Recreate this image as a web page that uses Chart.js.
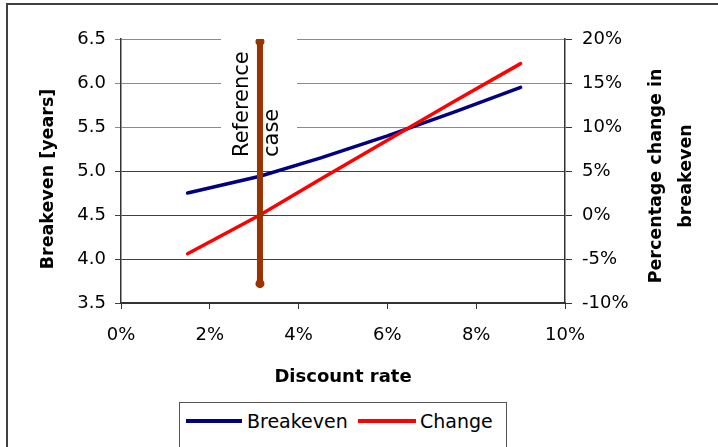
<!DOCTYPE html>
<html>
<head>
<meta charset="utf-8">
<script src="https://cdn.jsdelivr.net/npm/chart.js@4"></script>
<style>
  html, body { margin: 0; padding: 0; background: #fff; }
  #wrap { position: relative; width: 718px; height: 447px; overflow: hidden; background: #fff; }
  #chart { position: absolute; left: 0; top: 0; }
  #legend {
    position: absolute; left: 179px; top: 402px; width: 326px; height: 60px;
    border: 1px solid #555; background: #fff;
    font-family: "DejaVu Sans", sans-serif; font-size: 19px; color: #000;
  }
  .item { position: absolute; top: 6px; height: 24px; line-height: 24px; white-space: nowrap; }
  .swatch { position: absolute; height: 4px; }
</style>
</head>
<body>
<div id="wrap">
  <canvas id="chart" width="718" height="447"></canvas>
  <div id="legend"></div>
</div>
<script>
// Discount rate (%) at which the breakeven was evaluated
const discountRate = [1.5, 3.13, 4.5, 6.0, 7.5, 9.0];
// Breakeven time in years (left axis)
const breakevenYears = [4.75, 4.94, 5.15, 5.40, 5.67, 5.95];
// Percentage change in breakeven relative to the reference case (right axis)
const changePct = [-4.4, 0.0, 4.1, 8.5, 12.9, 17.2];
// Reference case marker: discount rate and vertical extent (years)
const referenceRate = 3.13;
const referenceSpan = [3.72, 6.47];

const seriesNames = ['Breakeven', 'Change'];
const seriesColors = ['#000080', '#ff0000'];
const markerColor = '#993300';

const FONT = '"DejaVu Sans", sans-serif';
Chart.defaults.font.family = FONT;
Chart.defaults.color = '#000';

const toPoints = (xs, ys) => xs.map((x, i) => ({ x: x, y: ys[i] }));

function rotatedText(ctx, text, x, y) {
  ctx.save();
  ctx.translate(x, y);
  ctx.rotate(-Math.PI / 2);
  ctx.fillText(text, 0, 0);
  ctx.restore();
}

// Decorations: outer frame, label box for the reference case, vertical axis titles
const decorations = {
  id: 'decorations',
  beforeDatasetsDraw(chart) {
    const ctx = chart.ctx;
    ctx.save();
    ctx.fillStyle = '#fff';
    ctx.fillRect(221, 33, 76, 132);
    ctx.fillStyle = '#000';
    ctx.font = '21px ' + FONT;
    ctx.textAlign = 'left';
    ctx.textBaseline = 'alphabetic';
    rotatedText(ctx, 'Reference', 248, 157);
    rotatedText(ctx, 'case', 278, 157);
    ctx.restore();
  },
  afterDraw(chart) {
    const ctx = chart.ctx;
    ctx.save();
    ctx.strokeStyle = '#404040';
    ctx.lineWidth = 2;
    ctx.beginPath();
    ctx.moveTo(7, 460);
    ctx.lineTo(7, 4);
    ctx.lineTo(730, 4);
    ctx.stroke();

    ctx.fillStyle = '#000';
    ctx.font = 'bold 17.5px ' + FONT;
    ctx.textAlign = 'center';
    ctx.textBaseline = 'middle';
    rotatedText(ctx, 'Breakeven [years]', 48, 179);
    rotatedText(ctx, 'Percentage change in', 656, 176);
    rotatedText(ctx, 'breakeven', 686, 176);
    ctx.restore();
  }
};

const chart = new Chart(document.getElementById('chart'), {
  type: 'scatter',
  data: {
    datasets: [
      {
        label: 'Reference case',
        data: [{ x: referenceRate, y: referenceSpan[0] }, { x: referenceRate, y: referenceSpan[1] }],
        yAxisID: 'y',
        showLine: true,
        borderColor: markerColor,
        backgroundColor: markerColor,
        borderWidth: 6,
        pointRadius: 4.5,
        pointBorderWidth: 0,
        pointBackgroundColor: markerColor
      },
      {
        label: seriesNames[1],
        data: toPoints(discountRate, changePct),
        yAxisID: 'y2',
        showLine: true,
        borderColor: seriesColors[1],
        borderWidth: 3.5,
        pointRadius: 0,
        borderCapStyle: 'round'
      },
      {
        label: seriesNames[0],
        data: toPoints(discountRate, breakevenYears),
        yAxisID: 'y',
        showLine: true,
        borderColor: seriesColors[0],
        borderWidth: 3.5,
        pointRadius: 0,
        borderCapStyle: 'round'
      }
    ]
  },
  options: {
    responsive: false,
    animation: false,
    devicePixelRatio: 1,
    layout: { padding: { left: 0, right: 0, top: 39, bottom: 0 } },
    plugins: { legend: { display: false }, tooltip: { enabled: false } },
    scales: {
      x: {
        type: 'linear',
        position: 'bottom',
        min: 0, max: 10,
        afterFit(s) { s.height = 144; },
        ticks: { stepSize: 2, padding: 16, font: { size: 18 }, maxRotation: 0,
                 callback: v => v + '%' },
        grid: { drawOnChartArea: false, drawTicks: true, tickLength: 6, color: '#333', tickWidth: 1 },
        border: { display: true, color: '#333', width: 2 },
        title: { display: true, text: 'Discount rate', font: { size: 18, weight: 'bold' },
                 padding: { top: 0, bottom: 59 } }
      },
      y: {
        type: 'linear',
        position: 'left',
        min: 3.5, max: 6.5,
        afterFit(s) { s.width = 121; },
        ticks: { stepSize: 0.5, padding: 9, font: { size: 18 }, callback: v => v.toFixed(1) },
        grid: {
          drawTicks: true, tickLength: 6,
          color: c => (c.tick && c.tick.value >= 5.5 ? '#8a8a8a' : '#404040'),
          lineWidth: 1
        },
        border: { display: true, color: '#333', width: 1.5 }
      },
      y2: {
        type: 'linear',
        position: 'right',
        min: -10, max: 20,
        afterFit(s) { s.width = 153; },
        ticks: { stepSize: 5, padding: 10, font: { size: 18 }, callback: v => v + '%' },
        grid: { drawOnChartArea: false, drawTicks: true, tickLength: 7, color: '#333' },
        border: { display: true, color: '#333', width: 1.5 }
      }
    }
  },
  plugins: [decorations]
});

// Legend built from the series names and colours
const legend = document.getElementById('legend');
const legendLayout = [
  { swatchLeft: 6, swatchWidth: 56, textLeft: 67 },
  { swatchLeft: 178, swatchWidth: 58, textLeft: 240 }
];
seriesNames.forEach((name, i) => {
  const sw = document.createElement('div');
  sw.className = 'swatch';
  sw.style.left = legendLayout[i].swatchLeft + 'px';
  sw.style.width = legendLayout[i].swatchWidth + 'px';
  sw.style.background = seriesColors[i];
  sw.style.top = '16px';
  legend.appendChild(sw);
  const tx = document.createElement('div');
  tx.className = 'item';
  tx.style.left = legendLayout[i].textLeft + 'px';
  tx.textContent = name;
  legend.appendChild(tx);
});
</script>
</body>
</html>
